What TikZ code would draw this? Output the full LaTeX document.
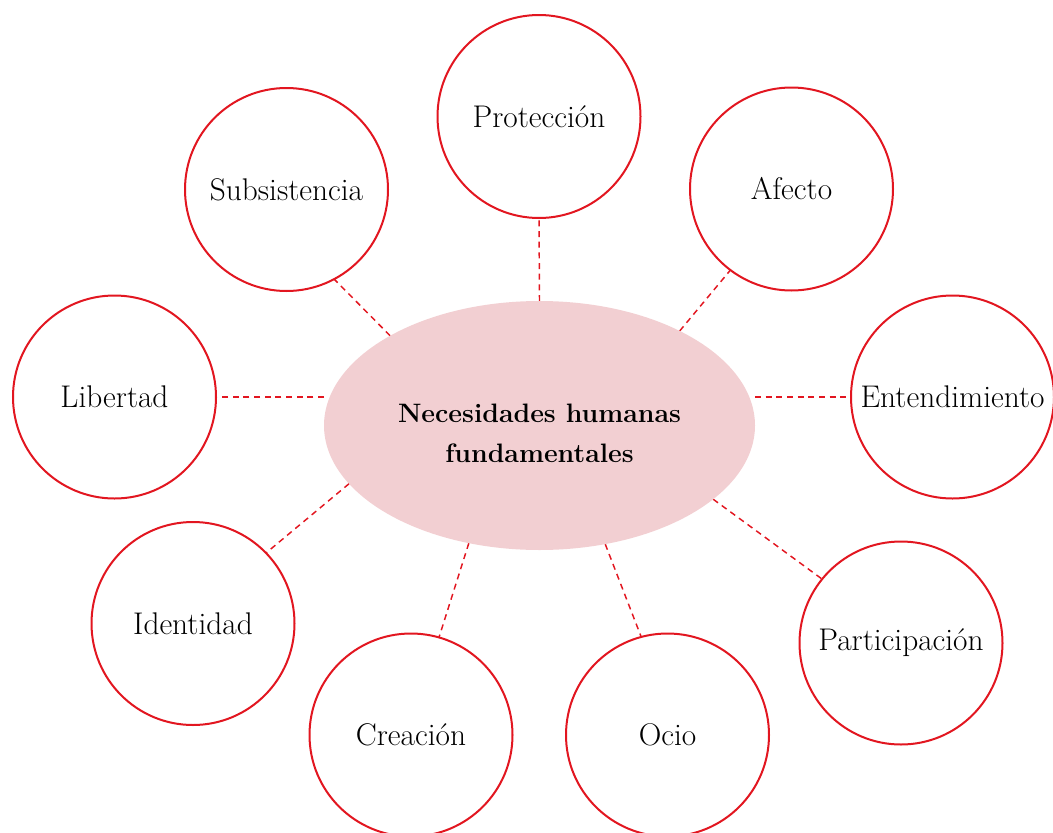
\documentclass[tikz,border=0pt]{standalone}
\usepackage{tikz}
\usetikzlibrary{shapes.geometric, positioning, calc}
\pgfdeclarelayer{background}
\pgfsetlayers{background,main}
\definecolor{needred}{RGB}{226,22,32}
\definecolor{corepink}{RGB}{242,207,210}
\tikzset{
  needs/.style={
	x=0.75pt, y=-0.75pt, % one unit is one pixel of the reference
	every node/.style={inner sep=0pt, outer sep=0pt}, % borders sit where they are drawn
  },
  need/.style={circle, draw=needred, line width=1.5pt, fill=white, minimum size=152.25pt, font=\fontsize{23.5}{28}\selectfont}, % the nine needs
  core/.style={ellipse, fill=corepink, minimum width=323.25pt, minimum height=186.75pt, align=center, font=\fontsize{20}{30}\selectfont\bfseries}, % the centre
  link/.style={draw=needred, line width=1.1pt, dash pattern=on 4.5pt off 3.5pt}, % dashed spokes
}
\begin{document}
\begin{tikzpicture}[needs]
\useasboundingbox (0,0) rectangle (1053,832);
\node[core] (c) at (539.5,425.5) {\rule{0pt}{25pt}Necesidades humanas\\fundamentales};
\node[need] (prot) at (539,116.5) {Protección};
\node[need] (subs) at (286.5,189.5) {Subsistencia};
\node[need] (afec) at (791.5,189) {Afecto};
\node[need] (libe) at (114.5,397) {Libertad};
\node[need] (ente) at (952.5,397) {Entendimiento};
\node[need] (iden) at (193,623.5) {Identidad};
\node[need] (part) at (901,643) {Participación};
\node[need] (crea) at (411,735) {Creación};
\node[need] (ocio) at (667.5,735) {Ocio};
% spokes go behind the ellipse, so they stop at its edge
\begin{pgfonlayer}{background}
\draw[link] (c.90) edge (prot.270)
	(c.149.4) edge (subs.298.5)
	(c.34.2) edge (afec.233.5)
	(c.west |- libe.0) edge (libe.0)
	(c.east |- ente.180) edge (ente.180)
	(c.197.6) edge (iden.44.4)
	(c.337.3) edge (part.141.3)
	(c.239.4) edge (crea.74.6)
	(c.299.9) edge (ocio.105.4)
;
\end{pgfonlayer}
\end{tikzpicture}
\end{document}
